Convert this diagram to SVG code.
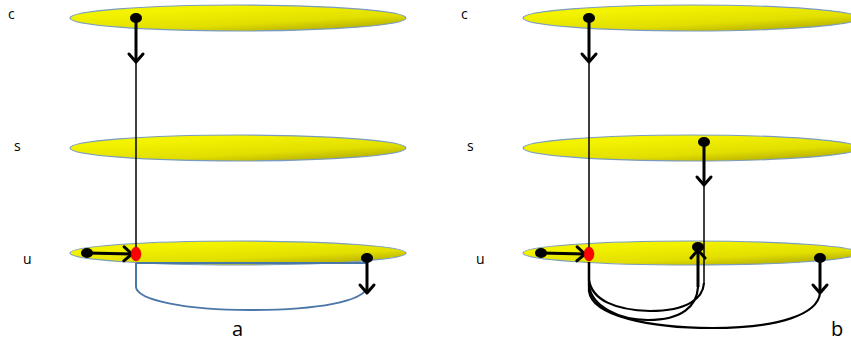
<svg xmlns="http://www.w3.org/2000/svg" width="851" height="341" viewBox="0 0 851 341">
<defs>
<linearGradient id="yg" x1="0.3" y1="0.2" x2="0.9" y2="1">
<stop offset="0" stop-color="#f3f300"/>
<stop offset="0.55" stop-color="#e2df00"/>
<stop offset="1" stop-color="#a9a200"/>
</linearGradient>
<marker id="chev" markerUnits="userSpaceOnUse" markerWidth="20" markerHeight="20" viewBox="0 0 20 20" refX="11" refY="10" orient="auto">
<path d="M3,3 L11,10 L3,17" fill="none" stroke="#000" stroke-width="3" stroke-linecap="round" stroke-linejoin="round"/>
</marker>
</defs>
<style>
.layer{fill:url(#yg);stroke:#7a9cc0;stroke-width:1.2}
.lbl{font-family:"Open Sans","Liberation Sans",sans-serif;font-size:14px;fill:#000}
.cap{font-family:"Open Sans","Liberation Sans",sans-serif;font-size:20px;fill:#000}
.dot{fill:#000}
.red{fill:#ff0000;stroke:#c00000;stroke-width:0.5}
.thick{stroke:#000;stroke-width:3;fill:none;marker-end:url(#chev)}
.thin{stroke:#000;stroke-width:1.5;fill:none}
.curve{stroke:#000;stroke-width:2.2;fill:none}
.blue{stroke:#4a76a8;stroke-width:2;fill:none}
</style>

<g id="panel-a">
<g id="a-layer-c"><ellipse class="layer" cx="238" cy="18" rx="168" ry="13"/><text class="lbl" x="8" y="19">c</text></g>
<g id="a-layer-s"><ellipse class="layer" cx="238" cy="148" rx="168" ry="13"/><text class="lbl" x="14" y="151">s</text></g>
<g id="a-layer-u"><ellipse class="layer" cx="238" cy="253" rx="168" ry="12"/><text class="lbl" x="23" y="264">u</text></g>
<text class="cap" x="232" y="336">a</text>
</g>

<g id="panel-b">
<g id="b-layer-c"><ellipse class="layer" cx="691" cy="18" rx="168" ry="13"/><text class="lbl" x="461" y="19">c</text></g>
<g id="b-layer-s"><ellipse class="layer" cx="691" cy="148" rx="168" ry="13"/><text class="lbl" x="467" y="151">s</text></g>
<g id="b-layer-u"><ellipse class="layer" cx="691" cy="253" rx="168" ry="12"/><text class="lbl" x="476" y="264">u</text></g>
<text class="cap" x="831" y="336">b</text>
</g>

<g id="connectors">
<!-- panel a -->
<path class="blue" d="M136,263 L367,263 M136,263 L136,287 C137,300 185,310 250,310 C320,310 362,301 367,288 L367,263"/>
<path class="thick" d="M136,18 L136,62"/>
<path class="thin" d="M136,62 L136,254"/>
<path class="thick" d="M87,253 L132,254"/>
<path class="thick" d="M367,258 L367,293"/>
<!-- panel b -->
<path class="thick" d="M589,18 L589,62"/>
<path class="thin" d="M589,62 L589,254"/>
<path class="thick" d="M704,142 L704,185"/>
<path class="thin" d="M704,185 L704,283"/>
<path class="thick" d="M541,253 L585,254"/>
<path class="thick" d="M698,287 L698,250"/>
<path class="thick" d="M820,258 L820,293"/>
<path class="curve" d="M589,262 L589,280 C592,300 615,310 650,311 C688,311 703,298 704,283"/>
<path class="curve" d="M589,262 L589,286 C592,306 618,320 648,320 C682,320 697,306 698,287"/>
<path class="curve" d="M589,262 L589,291 C592,316 650,328 712,328 C780,328 818,314 820,293"/>
</g>

<g id="nodes">
<ellipse id="a-c-dot" class="dot" cx="136" cy="18" rx="6" ry="5"/>
<ellipse id="a-u-left" class="dot" cx="87" cy="253" rx="6" ry="5"/>
<ellipse id="a-u-red" class="red" cx="136" cy="254" rx="5" ry="7"/>
<ellipse id="a-u-right" class="dot" cx="367" cy="258" rx="6" ry="5"/>
<ellipse id="b-c-dot" class="dot" cx="589" cy="18" rx="6" ry="5"/>
<ellipse id="b-s-dot" class="dot" cx="704" cy="142" rx="6" ry="5"/>
<ellipse id="b-u-left" class="dot" cx="541" cy="253" rx="6" ry="5"/>
<ellipse id="b-u-red" class="red" cx="589" cy="254" rx="5" ry="7"/>
<ellipse id="b-u-mid" class="dot" cx="698" cy="247" rx="6" ry="5"/>
<ellipse id="b-u-right" class="dot" cx="820" cy="258" rx="6" ry="5"/>
</g>
</svg>
